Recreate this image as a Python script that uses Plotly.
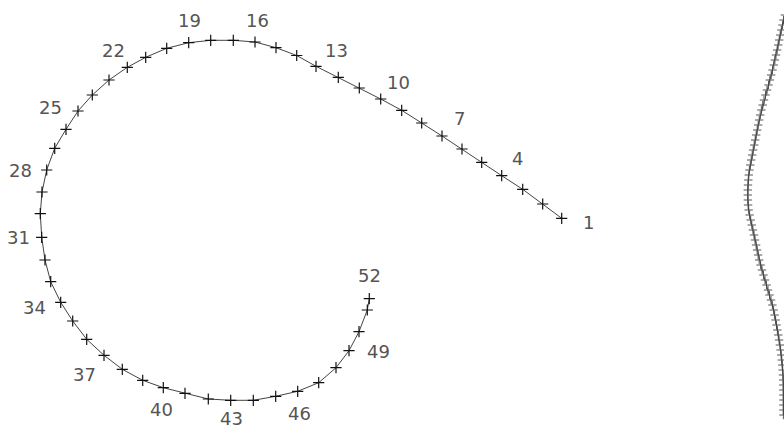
import plotly.graph_objects as go

# Spiral track: points 1..52 (pixel-like units, y measured downward)
spiral_x = [561.7, 542.7, 522.7, 501.7, 481.7, 462.0, 442.0, 421.7, 401.7, 380.7,
            359.3, 338.3, 316.0, 296.7, 276.0, 255.0, 233.3, 210.7, 188.7, 166.7,
            145.7, 127.3, 109.0, 92.3, 78.0, 66.0, 54.7, 46.7, 42.0, 40.3,
            41.7, 45.0, 50.7, 60.7, 72.7, 86.7, 104.0, 122.3, 142.7, 163.3,
            185.0, 208.3, 230.7, 253.3, 275.7, 297.7, 318.7, 336.0, 349.0, 359.0,
            367.3, 369.3]
spiral_y = [218.3, 204.0, 189.3, 175.7, 162.3, 149.0, 136.0, 123.0, 110.3, 99.0,
            88.0, 77.3, 66.3, 55.5, 47.7, 42.0, 40.3, 40.3, 42.7, 48.3,
            57.3, 67.3, 80.0, 95.0, 111.0, 129.3, 148.3, 170.0, 192.0, 213.7,
            237.3, 260.0, 281.7, 302.3, 321.0, 339.3, 355.3, 369.3, 380.3, 387.7,
            393.3, 399.0, 400.3, 400.3, 396.3, 391.3, 382.7, 367.7, 350.7, 331.7,
            310.0, 298.7]
point_ids = list(range(1, 53))
labelled_ids = [1, 4, 7, 10, 13, 16, 19, 22, 25, 28, 31, 34, 37, 40, 43, 46, 49, 52]

# Second (wavy, vertical) track at the right edge
wave_y = list(range(15, 420, 5))
wave_x = [785.0, 783.5, 782.5, 781.3, 780.2, 779.2, 778.2, 777.2, 776.0, 774.9,
          773.8, 772.5, 771.2, 769.8, 768.5, 767.0, 765.5, 764.0, 762.7, 761.4,
          760.2, 759.2, 758.2, 757.2, 756.2, 755.2, 754.2, 753.2, 752.2, 751.2,
          750.3, 749.4, 748.8, 748.3, 748.0, 747.8, 747.8, 747.9, 748.1, 748.7,
          749.6, 750.7, 751.8, 752.9, 754.0, 755.0, 756.1, 757.1, 758.1, 759.2,
          760.6, 762.0, 763.5, 765.0, 766.5, 768.0, 769.5, 771.0, 772.4, 773.6,
          774.6, 775.6, 776.5, 777.4, 778.3, 779.1, 779.9, 780.6, 781.2, 781.8,
          782.3, 782.7, 783.0, 783.2, 783.3, 783.4, 783.4, 783.4, 783.4, 783.4,
          783.4]

# label placement (screen px offset of text centre from its point)
label_offsets = {
    1: (27, 4), 4: (16, -17), 7: (17, -18), 10: (18, -17), 13: (20, -16),
    16: (2, -22), 19: (1, -22), 22: (-14, -17), 25: (-28, -4), 28: (-26, 0),
    31: (-23, 0), 34: (-26, 5), 37: (-20, 19), 40: (-2, 22), 43: (1, 18),
    46: (2, 22), 49: (29, 1), 52: (0, -23),
}

marker_style = dict(symbol='cross-thin', size=8, line=dict(width=1.2, color='#111'))

fig = go.Figure()

fig.add_trace(go.Scatter(
    x=spiral_x, y=spiral_y,
    mode='lines+markers',
    line=dict(color='#444', width=1),
    marker=marker_style,
    text=point_ids,
    hovertemplate='%{text}<extra></extra>',
))

fig.add_trace(go.Scatter(
    x=wave_x, y=wave_y,
    mode='lines+markers',
    line=dict(color='#555', width=1),
    marker=dict(symbol='cross-thin', size=6, line=dict(width=0.9, color='#444')),
    hoverinfo='skip',
))

for pid in labelled_ids:
    dx, dy = label_offsets[pid]
    fig.add_annotation(
        x=spiral_x[pid - 1], y=spiral_y[pid - 1],
        xref='x', yref='y',
        text=str(pid),
        showarrow=False,
        xshift=dx, yshift=-dy,
        font=dict(family='DejaVu Sans', size=18, color='#555'),
    )

fig.update_layout(
    width=784, height=427,
    margin=dict(l=0, r=0, t=0, b=0),
    paper_bgcolor='white',
    plot_bgcolor='white',
    showlegend=False,
    xaxis=dict(range=[0, 784], visible=False),
    yaxis=dict(range=[427, 0], visible=False),
)

# page body margin off so the figure sits at the window's corner
fig.write_html("out.html", config={'displayModeBar': False},
               post_script="document.body.style.margin='0';document.body.style.overflow='hidden';")
